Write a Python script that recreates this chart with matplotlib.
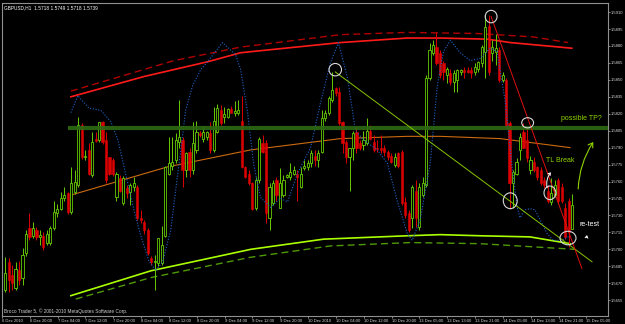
import numpy as np
import matplotlib
matplotlib.use('Agg')
import matplotlib.pyplot as plt
from matplotlib.patches import Ellipse, FancyArrowPatch

plt.rcParams['font.family'] = ['Liberation Sans', 'DejaVu Sans']

# GBPUSD H1 candles
opens = [1.5664, 1.5689, 1.5677, 1.5666, 1.5682, 1.5675, 1.5697, 1.5719, 1.5712, 1.5717,
         1.5711, 1.5712, 1.5706, 1.5706, 1.5719, 1.5732, 1.5736, 1.5745, 1.5750, 1.5733,
         1.5751, 1.5757, 1.5810, 1.5782, 1.5788, 1.5766, 1.5798, 1.5797, 1.5813, 1.5797,
         1.5782, 1.5779, 1.5746, 1.5763, 1.5741, 1.5754, 1.5751, 1.5755, 1.5755, 1.5728,
         1.5724, 1.5717, 1.5692, 1.5689, 1.5688, 1.5688, 1.5712, 1.5767, 1.5774, 1.5779,
         1.5795, 1.5797, 1.5770, 1.5786, 1.5770, 1.5788, 1.5803, 1.5798, 1.5799, 1.5803,
         1.5788, 1.5804, 1.5823, 1.5817, 1.5817, 1.5824, 1.5821, 1.5821, 1.5814, 1.5773,
         1.5767, 1.5759, 1.5737, 1.5761, 1.5794, 1.5794, 1.5728, 1.5741, 1.5761, 1.5737,
         1.5748, 1.5764, 1.5764, 1.5767, 1.5767, 1.5755, 1.5772, 1.5773, 1.5776, 1.5783,
         1.5779, 1.5786, 1.5816, 1.5821, 1.5832, 1.5843, 1.5839, 1.5813, 1.5795, 1.5782,
         1.5790, 1.5804, 1.5794, 1.5792, 1.5794, 1.5805, 1.5795, 1.5790, 1.5790, 1.5790,
         1.5786, 1.5783, 1.5775, 1.5785, 1.5786, 1.5742, 1.5732, 1.5728, 1.5752, 1.5720,
         1.5748, 1.5757, 1.5852, 1.5874, 1.5879, 1.5874, 1.5865, 1.5854, 1.5856, 1.5848,
         1.5850, 1.5857, 1.5859, 1.5859, 1.5859, 1.5857, 1.5860, 1.5865, 1.5875, 1.5898,
         1.5874, 1.5875, 1.5876, 1.5850, 1.5850, 1.5812, 1.5759, 1.5767, 1.5788, 1.5804,
         1.5797, 1.5770, 1.5777, 1.5773, 1.5770, 1.5761, 1.5752, 1.5742, 1.5748, 1.5761,
         1.5755, 1.5737, 1.5743, 1.5718]
highs = [1.5693, 1.5692, 1.5686, 1.5689, 1.5690, 1.5701, 1.5717, 1.5732, 1.5724, 1.5720,
         1.5717, 1.5715, 1.5717, 1.5721, 1.5743, 1.5740, 1.5751, 1.5755, 1.5751, 1.5773,
         1.5770, 1.5817, 1.5812, 1.5788, 1.5794, 1.5804, 1.5804, 1.5813, 1.5814, 1.5804,
         1.5782, 1.5781, 1.5768, 1.5766, 1.5765, 1.5757, 1.5759, 1.5764, 1.5757, 1.5735,
         1.5726, 1.5719, 1.5694, 1.5695, 1.5710, 1.5721, 1.5774, 1.5799, 1.5799, 1.5803,
         1.5832, 1.5799, 1.5786, 1.5790, 1.5813, 1.5814, 1.5805, 1.5809, 1.5805, 1.5813,
         1.5826, 1.5829, 1.5828, 1.5826, 1.5825, 1.5827, 1.5831, 1.5832, 1.5836, 1.5774,
         1.5770, 1.5760, 1.5764, 1.5799, 1.5801, 1.5797, 1.5759, 1.5761, 1.5764, 1.5772,
         1.5766, 1.5767, 1.5776, 1.5774, 1.5770, 1.5773, 1.5779, 1.5779, 1.5788, 1.5788,
         1.5788, 1.5823, 1.5823, 1.5836, 1.5857, 1.5844, 1.5844, 1.5814, 1.5797, 1.5790,
         1.5805, 1.5808, 1.5797, 1.5805, 1.5816, 1.5810, 1.5801, 1.5797, 1.5801, 1.5792,
         1.5788, 1.5785, 1.5785, 1.5786, 1.5788, 1.5746, 1.5735, 1.5757, 1.5761, 1.5759,
         1.5764, 1.5854, 1.5883, 1.5885, 1.5892, 1.5876, 1.5867, 1.5861, 1.5860, 1.5859,
         1.5860, 1.5860, 1.5861, 1.5861, 1.5861, 1.5865, 1.5867, 1.5881, 1.5907, 1.5907,
         1.5885, 1.5891, 1.5879, 1.5857, 1.5852, 1.5814, 1.5770, 1.5781, 1.5803, 1.5812,
         1.5808, 1.5783, 1.5782, 1.5774, 1.5773, 1.5764, 1.5757, 1.5763, 1.5761, 1.5763,
         1.5759, 1.5741, 1.5745, 1.5749]
lows = [1.5662, 1.5662, 1.5664, 1.5664, 1.5668, 1.5668, 1.5694, 1.5708, 1.5710, 1.5708,
        1.5704, 1.5699, 1.5704, 1.5704, 1.5717, 1.5729, 1.5735, 1.5743, 1.5731, 1.5731,
        1.5749, 1.5755, 1.5780, 1.5779, 1.5766, 1.5764, 1.5795, 1.5795, 1.5793, 1.5759,
        1.5766, 1.5765, 1.5743, 1.5751, 1.5739, 1.5745, 1.5739, 1.5752, 1.5726, 1.5723,
        1.5714, 1.5695, 1.5686, 1.5664, 1.5685, 1.5686, 1.5711, 1.5766, 1.5770, 1.5776,
        1.5790, 1.5755, 1.5764, 1.5764, 1.5767, 1.5785, 1.5799, 1.5795, 1.5797, 1.5785,
        1.5786, 1.5803, 1.5810, 1.5812, 1.5816, 1.5821, 1.5818, 1.5819, 1.5772, 1.5763,
        1.5757, 1.5735, 1.5735, 1.5759, 1.5785, 1.5723, 1.5717, 1.5739, 1.5743, 1.5737,
        1.5746, 1.5763, 1.5761, 1.5766, 1.5743, 1.5754, 1.5770, 1.5770, 1.5773, 1.5774,
        1.5773, 1.5785, 1.5814, 1.5819, 1.5830, 1.5836, 1.5810, 1.5785, 1.5776, 1.5752,
        1.5779, 1.5785, 1.5788, 1.5788, 1.5792, 1.5797, 1.5786, 1.5786, 1.5785, 1.5783,
        1.5779, 1.5776, 1.5773, 1.5772, 1.5739, 1.5728, 1.5715, 1.5719, 1.5720, 1.5717,
        1.5746, 1.5755, 1.5850, 1.5872, 1.5863, 1.5852, 1.5850, 1.5847, 1.5845, 1.5839,
        1.5839, 1.5854, 1.5852, 1.5856, 1.5852, 1.5854, 1.5857, 1.5861, 1.5852, 1.5854,
        1.5867, 1.5863, 1.5848, 1.5848, 1.5807, 1.5736, 1.5737, 1.5766, 1.5779, 1.5790,
        1.5777, 1.5767, 1.5768, 1.5761, 1.5757, 1.5754, 1.5741, 1.5739, 1.5746, 1.5741,
        1.5741, 1.5709, 1.5702, 1.5718]
closes = [1.5679, 1.5673, 1.5670, 1.5683, 1.5673, 1.5695, 1.5714, 1.5711, 1.5719, 1.5711,
          1.5713, 1.5702, 1.5714, 1.5719, 1.5733, 1.5736, 1.5745, 1.5748, 1.5733, 1.5759,
          1.5760, 1.5810, 1.5782, 1.5783, 1.5767, 1.5795, 1.5796, 1.5813, 1.5795, 1.5761,
          1.5767, 1.5767, 1.5767, 1.5752, 1.5763, 1.5750, 1.5757, 1.5759, 1.5728, 1.5726,
          1.5717, 1.5697, 1.5689, 1.5690, 1.5710, 1.5704, 1.5773, 1.5776, 1.5777, 1.5797,
          1.5799, 1.5770, 1.5785, 1.5770, 1.5794, 1.5804, 1.5801, 1.5804, 1.5804, 1.5788,
          1.5814, 1.5825, 1.5812, 1.5820, 1.5824, 1.5821, 1.5822, 1.5823, 1.5773, 1.5764,
          1.5759, 1.5736, 1.5761, 1.5798, 1.5786, 1.5732, 1.5755, 1.5759, 1.5748, 1.5759,
          1.5761, 1.5766, 1.5768, 1.5770, 1.5764, 1.5767, 1.5774, 1.5776, 1.5785, 1.5779,
          1.5785, 1.5816, 1.5821, 1.5834, 1.5841, 1.5838, 1.5812, 1.5794, 1.5782, 1.5790,
          1.5803, 1.5790, 1.5790, 1.5797, 1.5805, 1.5798, 1.5788, 1.5789, 1.5788, 1.5786,
          1.5782, 1.5777, 1.5782, 1.5774, 1.5741, 1.5730, 1.5717, 1.5755, 1.5728, 1.5755,
          1.5759, 1.5852, 1.5876, 1.5881, 1.5865, 1.5854, 1.5857, 1.5860, 1.5848, 1.5856,
          1.5859, 1.5859, 1.5857, 1.5857, 1.5856, 1.5861, 1.5866, 1.5879, 1.5897, 1.5857,
          1.5879, 1.5878, 1.5850, 1.5854, 1.5810, 1.5759, 1.5768, 1.5777, 1.5799, 1.5790,
          1.5781, 1.5779, 1.5770, 1.5764, 1.5759, 1.5757, 1.5743, 1.5750, 1.5757, 1.5743,
          1.5743, 1.5711, 1.5715, 1.5739]

time_labels = ['6 Dec 2010', '6 Dec 20:00', '7 Dec 04:00', '7 Dec 12:00', '7 Dec 20:00',
               '8 Dec 04:00', '8 Dec 12:00', '8 Dec 20:00', '9 Dec 04:00', '9 Dec 12:00',
               '9 Dec 20:00', '10 Dec 2010', '10 Dec 04:00', '10 Dec 12:00', '10 Dec 20:00',
               '13 Dec 05:00', '13 Dec 13:00', '13 Dec 21:00', '14 Dec 05:00', '14 Dec 13:00',
               '14 Dec 21:00', '15 Dec 05:00']
price_ticks = [1.5655, 1.5670, 1.5685, 1.5700, 1.5715, 1.5730, 1.5745, 1.5760, 1.5775,
               1.5790, 1.5805, 1.5820, 1.5835, 1.5850, 1.5865, 1.5880, 1.5895, 1.5910]

# regression channel (upper / middle / lower) read as bar, price pairs
upper_bar = [18.9, 40.0, 58.2, 67.7, 96.4, 115.6, 125.1, 138.6, 145.2, 162.9]
upper_px = [1.5835, 1.5853, 1.5866, 1.5874, 1.5883, 1.5887, 1.5887, 1.5886, 1.5883, 1.5878]
upper2_bar = [18.9, 48.5, 67.7, 96.4, 115.6, 135.7, 151.8, 161.8]
upper2_px = [1.5840, 1.5867, 1.5879, 1.5890, 1.5892, 1.5891, 1.5888, 1.5883]
mid_bar = [18.9, 46.7, 70.6, 96.4, 115.6, 125.1, 142.3, 162.4]
mid_px = [1.5748, 1.5773, 1.5788, 1.5798, 1.5800, 1.5800, 1.5798, 1.5790]
lower_bar = [18.9, 41.9, 70.6, 91.5, 115.6, 125.1, 136.6, 150.9, 162.4]
lower_px = [1.5659, 1.5681, 1.5700, 1.5709, 1.5712, 1.5713, 1.5712, 1.5711, 1.5705]
lower2_bar = [20.3, 41.9, 70.6, 93.5, 116.5, 136.6, 163.8]
lower2_px = [1.5656, 1.5675, 1.5693, 1.5703, 1.5706, 1.5705, 1.5700]

# blue dotted indicator
blue_bar = [18.9, 20.9, 24.1, 27.5, 30.4, 32.4, 34.7, 37.0, 39.0, 41.3, 43.3, 45.3, 47.6,
            49.0, 50.5, 51.9, 53.9, 56.2, 58.2, 62.5, 66.3, 67.7, 69.7, 71.4, 73.4, 76.3,
            79.2, 81.2, 84.0, 87.8, 90.6, 93.5, 95.8, 98.4, 100.7, 103.0, 107.0, 109.9,
            112.7, 115.6, 117.0, 119.3, 122.2, 124.2, 126.0, 128.0, 130.8, 133.7, 136.6,
            139.4, 141.4, 143.7, 145.7, 147.2, 148.0, 149.5, 150.9, 152.3, 154.3, 155.8,
            157.5, 160.1, 162.4]
blue_px = [1.5821, 1.5836, 1.5825, 1.5823, 1.5813, 1.5797, 1.5766, 1.5735, 1.5712, 1.5690,
           1.5681, 1.5689, 1.5717, 1.5752, 1.5788, 1.5823, 1.5845, 1.5859, 1.5866, 1.5883,
           1.5872, 1.5859, 1.5821, 1.5776, 1.5746, 1.5737, 1.5745, 1.5742, 1.5767, 1.5790,
           1.5829, 1.5865, 1.5883, 1.5852, 1.5805, 1.5797, 1.5788, 1.5776, 1.5743, 1.5714,
           1.5708, 1.5726, 1.5776, 1.5844, 1.5875, 1.5885, 1.5874, 1.5867, 1.5869, 1.5878,
           1.5875, 1.5832, 1.5774, 1.5737, 1.5728, 1.5735, 1.5736, 1.5735, 1.5723, 1.5714,
           1.5708, 1.5708, 1.5712]

tp_level = 1.5807
green_tl = ([94.9, 168.7], [1.5857, 1.5689])
red_tl = ([139.7, 165.8], [1.5906, 1.5683])
circles = [(139.7, 1.5906, 3.4, 0.0011), (94.9, 1.5859, 3.6, 0.0011),
           (150.2, 1.5812, 3.4, 0.0009), (145.2, 1.5743, 4.0, 0.0014),
           (156.6, 1.5750, 3.4, 0.0012), (161.8, 1.5710, 4.6, 0.0012)]

bull = '#66cc00'
bear = '#dd0000'

fig = plt.figure(figsize=(6.25, 3.24), dpi=100, facecolor='black')
ax = fig.add_axes([0.0032, 0.0247, 0.9696, 0.966])
ax.set_facecolor('black')

x = np.arange(len(closes))
o = np.array(opens)
c = np.array(closes)
up = c >= o
ax.vlines(x, lows, highs, colors=np.where(up, bull, bear), linewidth=0.7, zorder=3)
ax.bar(x[up], (c - o)[up], bottom=o[up], width=0.62, facecolor='black',
       edgecolor=bull, linewidth=0.6, zorder=4)
ax.bar(x[~up], (o - c)[~up], bottom=c[~up], width=0.62, facecolor=bear,
       edgecolor=bear, linewidth=0.4, zorder=4)

ax.plot(upper_bar, upper_px, color='#ff1a1a', lw=1.2, zorder=2)
ax.plot(upper2_bar, upper2_px, color='#b00000', lw=1.0, ls=(0, (5, 3)), zorder=2)
ax.plot(mid_bar, mid_px, color='#cc6a10', lw=0.8, zorder=2)
ax.plot(lower_bar, lower_px, color='#aaff00', lw=1.2, zorder=2)
ax.plot(lower2_bar, lower2_px, color='#4e9a06', lw=1.0, ls=(0, (5, 3)), zorder=2)
ax.plot(blue_bar, blue_px, color='#1e64c8', lw=0.8, ls=(0, (1, 1.5)), zorder=5)

ax.hlines(tp_level, 18.0, 180, color='#2d6a12', lw=3.0, alpha=0.9, zorder=6)
ax.plot(*green_tl, color='#88c400', lw=0.7, zorder=6)
ax.plot(*red_tl, color='#e01010', lw=0.7, zorder=6)
for bx, py, w, h in circles:
    ax.add_patch(Ellipse((bx, py), w, h, fill=False, edgecolor='#d8d8d8', lw=0.8, zorder=7))

ax.text(159.8, 1.5816, 'possible TP?', color='#8fd400', fontsize=5, va='center', zorder=8)
ax.text(155.5, 1.5779, 'TL Break', color='#8fd400', fontsize=5, va='center', zorder=8)
ax.text(165.0, 1.5722, 're-test', color='white', fontsize=5, va='center', zorder=8)
ax.add_patch(FancyArrowPatch((156.0, 1.5752), (157.4, 1.5770), arrowstyle='->,head_width=1,head_length=1.5',
                             connectionstyle='arc3,rad=-0.3', color='white', lw=0.7, zorder=8))
ax.add_patch(FancyArrowPatch((167.0, 1.5708), (167.4, 1.5715), arrowstyle='->,head_width=1,head_length=1.5',
                             color='white', lw=0.7, zorder=8))
ax.add_patch(FancyArrowPatch((164.7, 1.5751), (169.5, 1.5797), arrowstyle='->,head_width=2,head_length=3',
                             connectionstyle='arc3,rad=-0.15', color='#8fd400', lw=0.8, zorder=8))

ax.text(0.004, 0.992, 'GBPUSD,H1  1.5718 1.5749 1.5718 1.5739', transform=ax.transAxes,
        color='white', fontsize=3.4, va='top', ha='left')
ax.text(0.004, 0.006, 'Broco Trader 5, \u00a9 2001-2010 MetaQuotes Software Corp.',
        transform=ax.transAxes, color='#d0d0d0', fontsize=3.4, va='bottom', ha='left')

ax.set_xlim(-0.6, 173.3)
ax.set_ylim(1.5641, 1.5918)
ax.set_xticks(np.arange(0, 8 * len(time_labels), 8)[:len(time_labels)] - 0.9)
ax.set_xticklabels(time_labels, ha='left')
ax.yaxis.tick_right()
ax.set_yticks(price_ticks)
ax.set_yticklabels(['%.4f' % p for p in price_ticks])
ax.tick_params(axis='both', colors='#a0a0a0', labelcolor='#d8d8d8', labelsize=3.0,
               length=1.5, width=0.6, pad=0.6)
for s in ax.spines.values():
    s.set_color('#909090')
    s.set_linewidth(0.8)

fig.savefig('out.png', dpi=100, facecolor='black')
